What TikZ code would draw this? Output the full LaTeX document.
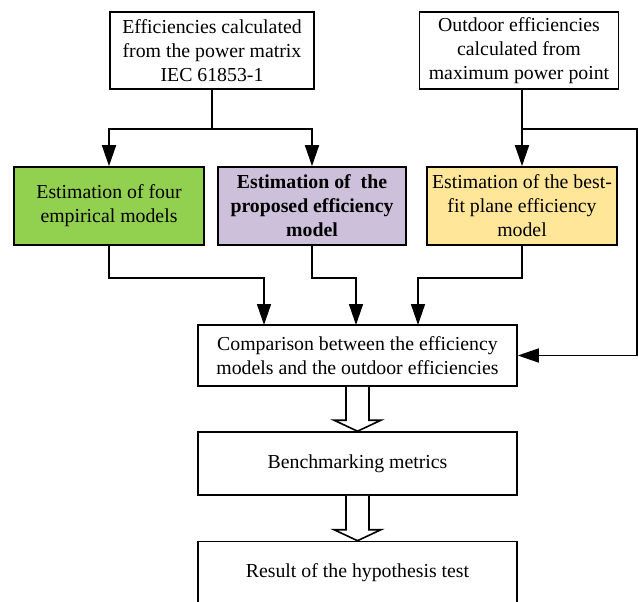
\documentclass[tikz,border=0pt]{standalone}
\usepackage{fontspec}
\setmainfont{Liberation Serif}
\usetikzlibrary{arrows.meta,calc}
\definecolor{boxgreen}{RGB}{146,208,80}
\definecolor{boxpurple}{RGB}{204,192,218}
\definecolor{boxyellow}{RGB}{255,230,153}
\tikzset{
  box/.style={draw, line width=1.6pt, inner sep=0pt, align=center, font=\fontsize{19.8}{24}\selectfont},
  conn/.style={line width=1.6pt},
  arr/.style={line width=1.6pt, -{Triangle[width=14pt,length=21pt]}},
  hollow/.style={line width=1.6pt, fill=white, line join=miter},
}
\begin{document}
\begin{tikzpicture}[x=1pt,y=-1pt]
\useasboundingbox (0,0) rectangle (638,602);
\clip (0,0) rectangle (638,602);
\node[box, minimum width=204pt, minimum height=77pt] (top1) at (212,50.5) {Efficiencies calculated\\from the power matrix\\IEC 61853-1};
\node[box, minimum width=199pt, minimum height=77pt] (top2) at (519,50.5) {Outdoor efficiencies\\calculated from\\maximum power point};
\node[box, fill=boxgreen, minimum width=190pt, minimum height=78pt] (green) at (109,206) {Estimation of four\\empirical models};
\node[box, fill=boxpurple, minimum width=188pt, minimum height=78pt, font=\fontsize{19.8}{24}\selectfont\bfseries] (purple) at (312,206) {Estimation of~ the\\proposed efficiency\\model};
\node[box, fill=boxyellow, minimum width=190pt, minimum height=78pt] (yellow) at (522,206) {Estimation of the best-\\fit plane efficiency\\model};
\node[box, minimum width=319pt, minimum height=61pt] (comp) at (357.5,355.5) {Comparison between the efficiency\\models and the outdoor efficiencies};
\node[box, minimum width=319pt, minimum height=63pt] (bench) at (357.5,463.5) {Benchmarking metrics};
\node[box, minimum width=319pt, minimum height=63pt] (result) at (357.5,573) {Result of the hypothesis test};
% top connectors
\coordinate (j1) at (212,129);
\coordinate (j2) at (522,129);
\coordinate (rc) at (637,129);
\draw[conn] (top1.south) -- (j1);
\draw[arr] (j1) -| (green.north);
\draw[arr] (j1) -| (purple.north);
\draw[arr] (top2.south -| yellow.north) -- (yellow.north);
\draw[arr] (j2) -- (rc) |- (comp.east);
% lower connectors
\coordinate (t1) at (264,325);
\coordinate (t2) at (356,325);
\coordinate (t3) at (418,325);
\draw[arr] (green.south) -- ++(0,32) -| (t1);
\draw[arr] (purple.south) -- ++(0,32) -| (t2);
\draw[arr] (yellow.south) -- ++(0,32) -| (t3);
% hollow arrows
\draw[hollow] ($(comp.south)+(-11.5,0)$) -- ($(bench.north)+(-11.5,-11)$) -- ($(bench.north)+(-23.5,-11)$) -- (bench.north) -- ($(bench.north)+(23.5,-11)$) -- ($(bench.north)+(11.5,-11)$) -- ($(comp.south)+(11.5,0)$);
\draw[hollow] ($(bench.south)+(-11.5,0)$) -- ($(result.north)+(-11.5,-11)$) -- ($(result.north)+(-23.5,-11)$) -- (result.north) -- ($(result.north)+(23.5,-11)$) -- ($(result.north)+(11.5,-11)$) -- ($(bench.south)+(11.5,0)$);
\end{tikzpicture}
\end{document}
